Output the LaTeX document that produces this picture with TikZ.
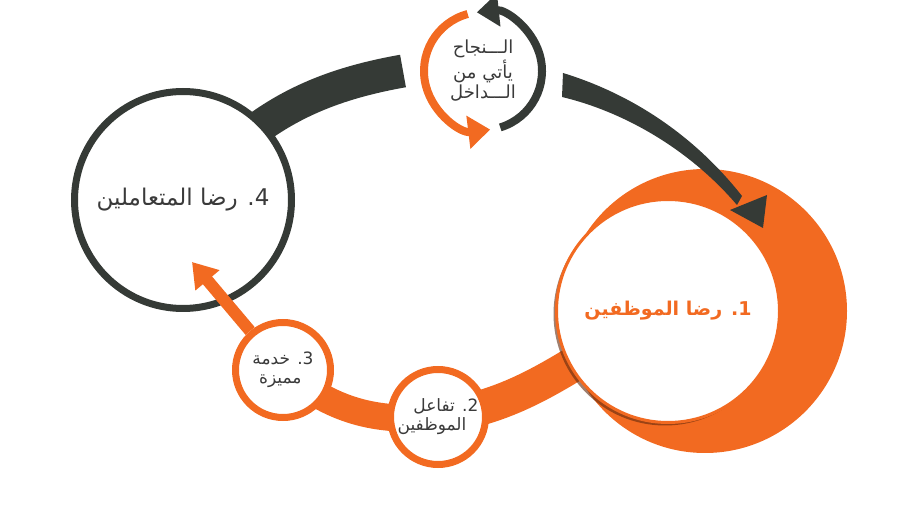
\documentclass[tikz,border=0pt]{standalone}
\usepackage{fontspec}
\newfontfamily\arabicfont[Script=Arabic]{DejaVu Sans}
\TeXXeTstate=1
\usetikzlibrary{arrows.meta,shadows,backgrounds}
\definecolor{orng}{HTML}{F26A21}
\definecolor{dgray}{HTML}{353A36}
\definecolor{tgray}{HTML}{3A3A3A}

\begin{document}
\begin{tikzpicture}[
    x=0.5pt, y=0.5pt,
    bigcirc/.style={circle, inner sep=0pt, fill=white, align=center},
    smallcirc/.style={circle, draw=orng, line width=3.5pt, fill=white, inner sep=0pt, minimum size=47.5pt, align=right, font=\arabicfont\fontsize{8.5}{9.5}\selectfont, text=tgray},
    headtip/.style={-{Triangle[length=11pt, width=16pt]}}
]
    \useasboundingbox (0,0) rectangle (900,-507);

    % employees
    \node[circle, fill=orng, minimum size=142pt, inner sep=0pt] (ring) at (705,-311) {};
    \node[bigcirc, draw=orng, line width=1.5pt, minimum size=111.5pt, text=orng,
          font=\arabicfont\bfseries\fontsize{9.5}{11}\selectfont,
          drop shadow={shadow xshift=-1.5pt, shadow yshift=-1.5pt, fill=black!60!orng, opacity=.6}] (c1) at (668,-311) {\beginR 1. رضا الموظفين\endR};

    % customers
    \node[bigcirc, draw=dgray, line width=3.5pt, minimum size=108.5pt, text=tgray,
          font=\arabicfont\fontsize{11.5}{13}\selectfont] (c4) at (183,-200) {\beginR 4. رضا المتعاملين\endR};

    % steps 2 and 3
    \node[smallcirc] (c2) at (438,-417) {\beginR 2. تفاعل\endR\\ \beginR الموظفين\endR\kern6pt\null};
    \node[smallcirc] (c3) at (283,-370) {\beginR 3. خدمة\endR\\ \beginR مميزة\endR\kern6pt\null};

    % motto
    \node[align=center, text=tgray, font=\arabicfont\fontsize{9}{8.5}\selectfont] (motto) at (483,-71)
        {\beginR الـــنجاح\endR\\ \beginR يأتي من\endR\\ \beginR الـــداخل\endR};

    \coordinate (dend) at (403,-71);
    \coordinate (otip) at (192,-262);

    \begin{scope}[on background layer]
        \draw[dgray, line width=16.5pt] (c4.center) to[out=50, in=190] (dend);
        \draw[orng, line width=17.5pt] (c2.center) to[out=8, in=205] (c1.center);
        \draw[orng, line width=13.5pt] (c3.center) to[out=-40, in=185] (c2.center);
    \end{scope}

    % arrow into the ring
    \fill[dgray] (563,-73) .. controls (625,-92) and (690,-130) .. (742,-196)
        -- (737,-205) .. controls (690,-150) and (625,-112) .. (562,-97) -- cycle;
    \fill[dgray] (730,-210) -- (767,-195) -- (763,-228) -- cycle;

    % arrow to customers
    \draw[orng, line width=6pt, -{Triangle[length=12pt, width=15pt]}] (c3) -- (otip);

    % small cycle
    \draw[orng, line width=4pt, headtip] ([shift={(105:59)}]motto.center) arc[start angle=105, end angle=277, radius=59];
    \draw[dgray, line width=4pt, headtip] ([shift={(-73:59)}]motto.center) arc[start angle=-73, end angle=96, radius=59];
\end{tikzpicture}
\end{document}
